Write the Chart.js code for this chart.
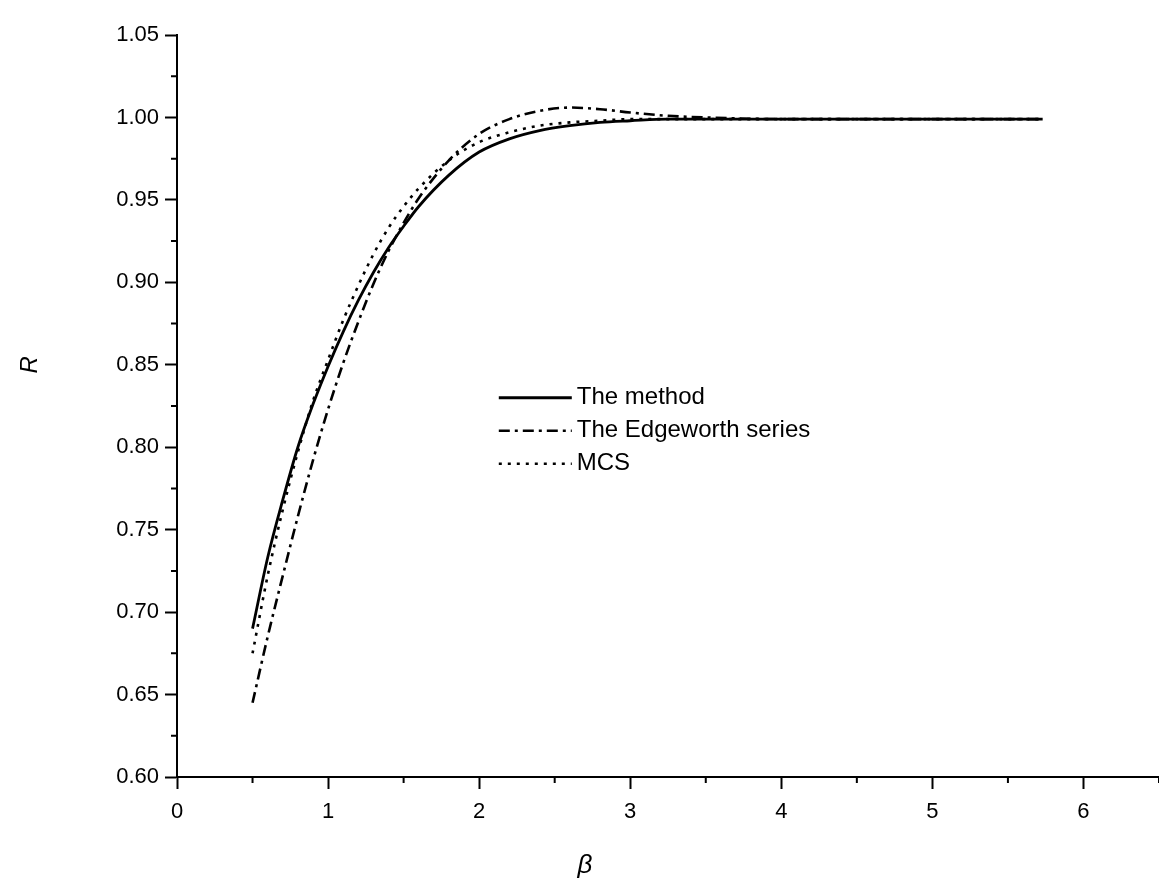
<!DOCTYPE html>
<html lang="en">
<head>
    <meta charset="UTF-8">
    <title>R vs beta</title>
    <script src="https://cdn.jsdelivr.net/npm/chart.js"></script>
    <style>
        body { margin: 0; background: #fff; }
        #wrap { width: 1159px; height: 886px; }
    </style>
</head>
<body>
    <div id="wrap"><canvas id="chart" width="1159" height="886"></canvas></div>

    <script>
        // data
        const betaValues = [0.5, 0.6, 0.7, 0.8, 0.9, 1.0, 1.1, 1.2, 1.3, 1.4, 1.5, 1.6, 1.8, 2.0, 2.2, 2.4, 2.6, 2.8, 3.0, 3.25, 3.5, 4.0, 4.5, 5.0, 5.5, 5.73];
        const methodR = [0.690, 0.733, 0.768, 0.800, 0.826, 0.849, 0.870, 0.889, 0.906, 0.921, 0.934, 0.946, 0.965, 0.979, 0.987, 0.992, 0.995, 0.997, 0.998, 0.999, 0.999, 0.999, 0.999, 0.999, 0.999, 0.999];
        const edgeworthR = [0.645, 0.685, 0.722, 0.758, 0.792, 0.823, 0.851, 0.876, 0.899, 0.919, 0.936, 0.951, 0.974, 0.990, 0.999, 1.004, 1.006, 1.005, 1.003, 1.001, 1.000, 0.999, 0.999, 0.999, 0.999, 0.999];
        const mcsR = [0.675, 0.722, 0.762, 0.797, 0.828, 0.853, 0.877, 0.898, 0.917, 0.933, 0.946, 0.957, 0.974, 0.985, 0.991, 0.995, 0.997, 0.998, 0.999, 0.999, 0.999, 0.999, 0.999, 0.999, 0.999, 0.999];
        const seriesNames = ['The method', 'The Edgeworth series', 'MCS'];
        const xTicks = [0, 1, 2, 3, 4, 5, 6];
        const yTicks = [0.60, 0.65, 0.70, 0.75, 0.80, 0.85, 0.90, 0.95, 1.00, 1.05];
        const xTitle = 'β';
        const yTitle = 'R';

        const font = "'Liberation Sans', Arial, sans-serif";

        function toPoints(ys) {
            return betaValues.map((x, i) => ({ x: x, y: ys[i] }));
        }

        // minor ticks between the major ones
        const minorTicks = {
            id: 'minorTicks',
            afterDraw(chart) {
                const ctx = chart.ctx;
                const xs = chart.scales.x, ys = chart.scales.y;
                ctx.save();
                ctx.strokeStyle = '#000';
                ctx.lineWidth = 2;
                ctx.beginPath();
                for (let i = 0; i < xTicks.length; i++) {
                    const px = xs.getPixelForValue(xTicks[i] + 0.5);
                    if (px > xs.right) continue;
                    ctx.moveTo(px, ys.bottom);
                    ctx.lineTo(px, ys.bottom + 6);
                }
                for (let i = 0; i < yTicks.length - 1; i++) {
                    const py = ys.getPixelForValue(yTicks[i] + 0.025);
                    ctx.moveTo(xs.left, py);
                    ctx.lineTo(xs.left - 6, py);
                }
                ctx.stroke();
                ctx.restore();
            }
        };

        // legend inside the plot + axis titles
        const innerLegend = {
            id: 'innerLegend',
            afterDraw(chart) {
                const ctx = chart.ctx;
                const xs = chart.scales.x, ys = chart.scales.y;
                const x0 = xs.getPixelForValue(2.13);
                const y0 = ys.getPixelForValue(0.83);
                ctx.save();
                ctx.font = '24px ' + font;
                ctx.fillStyle = '#000';
                ctx.textBaseline = 'middle';
                chart.data.datasets.forEach((ds, i) => {
                    const y = y0 + i * 33;
                    ctx.strokeStyle = '#000';
                    ctx.lineWidth = ds.borderWidth;
                    ctx.setLineDash(ds.borderDash || []);
                    ctx.beginPath();
                    ctx.moveTo(x0, y);
                    ctx.lineTo(x0 + 73, y);
                    ctx.stroke();
                    ctx.setLineDash([]);
                    ctx.fillText(ds.label, x0 + 78, y);
                });

                ctx.textAlign = 'center';
                ctx.font = 'italic 26px ' + font;
                ctx.fillText(xTitle, xs.getPixelForValue(2.7), 866);
                ctx.translate(30, ys.getPixelForValue(0.85));
                ctx.rotate(-Math.PI / 2);
                ctx.font = 'italic 24px ' + font;
                ctx.fillText(yTitle, 0, 0);
                ctx.restore();
            }
        };

        new Chart(document.getElementById('chart'), {
            type: 'line',
            data: {
                datasets: [
                    {
                        label: seriesNames[0],
                        data: toPoints(methodR),
                        borderColor: '#000',
                        borderWidth: 2.8,
                        pointRadius: 0,
                        cubicInterpolationMode: 'monotone'
                    },
                    {
                        label: seriesNames[1],
                        data: toPoints(edgeworthR),
                        borderColor: '#000',
                        borderWidth: 2.6,
                        borderDash: [11, 5, 3, 5],
                        pointRadius: 0,
                        cubicInterpolationMode: 'monotone'
                    },
                    {
                        label: seriesNames[2],
                        data: toPoints(mcsR),
                        borderColor: '#000',
                        borderWidth: 2.6,
                        borderDash: [3, 6],
                        pointRadius: 0,
                        cubicInterpolationMode: 'monotone'
                    }
                ]
            },
            options: {
                responsive: false,
                animation: false,
                layout: { padding: { left: 14, top: 35, right: 0, bottom: 0 } },
                plugins: {
                    legend: { display: false },
                    tooltip: { enabled: false }
                },
                scales: {
                    x: {
                        type: 'linear',
                        min: 0,
                        max: 6.5,
                        afterBuildTicks: (scale) => { scale.ticks = xTicks.map(v => ({ value: v })); },
                        ticks: {
                            color: '#000',
                            font: { family: font, size: 22 },
                            padding: 10
                        },
                        grid: {
                            drawOnChartArea: false,
                            drawTicks: true,
                            tickLength: 12,
                            tickWidth: 2,
                            tickColor: '#000'
                        },
                        border: { color: '#000', width: 2 },
                        afterFit: (scale) => { scale.height = 109; }
                    },
                    y: {
                        min: 0.6,
                        max: 1.05,
                        afterBuildTicks: (scale) => { scale.ticks = yTicks.map(v => ({ value: v })); },
                        ticks: {
                            color: '#000',
                            font: { family: font, size: 22 },
                            padding: 6,
                            callback: (v) => v.toFixed(2)
                        },
                        grid: {
                            drawOnChartArea: false,
                            drawTicks: true,
                            tickLength: 12,
                            tickWidth: 2,
                            tickColor: '#000'
                        },
                        border: { color: '#000', width: 2 },
                        afterFit: (scale) => { scale.width = 163; }
                    }
                }
            },
            plugins: [minorTicks, innerLegend]
        });
    </script>
</body>
</html>
